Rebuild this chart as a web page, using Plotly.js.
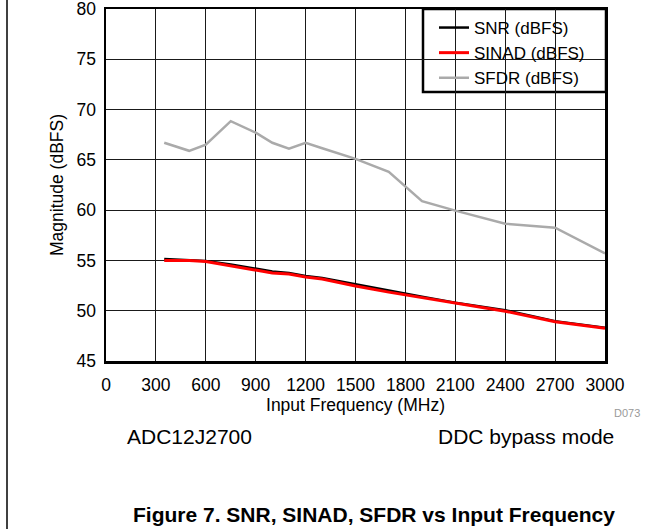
<!DOCTYPE html>
<html>
<head>
<meta charset="utf-8">
<script src="https://cdn.plot.ly/plotly-3.0.1.min.js"></script>
<style>html,body{margin:0;padding:0;background:#fff;}#chart{width:669px;height:529px;}</style>
</head>
<body>
<div id="chart"></div>
<script>
// Data
var freqMHz = [350, 500, 600, 750, 900, 1000, 1100, 1200, 1300, 1500, 1700, 1900, 2100, 2400, 2700, 3000];
var snr   = [55.15, 55.05, 54.95, 54.6, 54.2, 53.9, 53.75, 53.45, 53.25, 52.6, 52.0, 51.4, 50.8, 50.05, 48.95, 48.3];
var sinad = [55.0, 55.0, 54.9, 54.45, 54.0, 53.75, 53.65, 53.35, 53.15, 52.45, 51.85, 51.3, 50.7, 49.95, 48.9, 48.25];
var sfdr  = [66.7, 65.9, 66.5, 68.85, 67.7, 66.7, 66.1, 66.7, 66.15, 65.1, 63.8, 60.9, 59.95, 58.65, 58.25, 55.7];
var seriesNames = ["SNR (dBFS)", "SINAD (dBFS)", "SFDR (dBFS)"];
var xTickVals = [0, 300, 600, 900, 1200, 1500, 1800, 2100, 2400, 2700, 3000];
var yTickVals = [45, 50, 55, 60, 65, 70, 75, 80];

var FONT = "Liberation Sans, Arial, Helvetica, sans-serif";

var traces = [
  {x: freqMHz, y: snr, name: seriesNames[0], mode: "lines", line: {color: "#000000", width: 2.5}},
  {x: freqMHz, y: sinad, name: seriesNames[1], mode: "lines", line: {color: "#ff0000", width: 3}},
  {x: freqMHz, y: sfdr, name: seriesNames[2], mode: "lines", line: {color: "#aaaaaa", width: 2.5}}
];

// pixel -> paper helpers (plot area 106..605 x, 9..361 y)
var L = 106, R = 605, T = 9, B = 361;
function px(x){ return (x - L) / (R - L); }
function py(y){ return (B - y) / (B - T); }

var layout = {
  width: 669, height: 529,
  margin: {l: L, r: 669 - R, t: T, b: 529 - B, pad: 0},
  paper_bgcolor: "#ffffff", plot_bgcolor: "#ffffff",
  font: {family: FONT, color: "#000000", size: 17},
  showlegend: true,
  legend: {
    x: px(434), y: py(10), xanchor: "left", yanchor: "top",
    bgcolor: "rgba(0,0,0,0)", borderwidth: 0,
    font: {family: FONT, size: 17, color: "#000"},
    tracegroupgap: 0
  },
  xaxis: {
    range: [0, 3000], tickvals: xTickVals, ticktext: xTickVals.map(String),
    showgrid: true, gridcolor: "#1a1a1a", gridwidth: 1,
    showline: true, linecolor: "#000", linewidth: 2.5, mirror: true,
    zeroline: false, ticks: "", ticklabelstandoff: 6, ticklabeloverflow: "allow",
    tickfont: {family: FONT, size: 17.5},
    title: {text: "Input Frequency (MHz)", font: {family: FONT, size: 17.5}, standoff: 1}
  },
  yaxis: {
    range: [45, 80], tickvals: yTickVals, ticktext: yTickVals.map(String),
    showgrid: true, gridcolor: "#1a1a1a", gridwidth: 1,
    showline: true, linecolor: "#000", linewidth: 2.5, mirror: true,
    zeroline: false, ticks: "", ticklabelstandoff: 4, ticklabeloverflow: "allow",
    tickfont: {family: FONT, size: 17.5},
    title: {text: "Magnitude (dBFS)", font: {family: FONT, size: 17.5}, standoff: 9}
  },
  shapes: [
    {type: "rect", xref: "paper", yref: "paper", x0: px(423), x1: px(606), y0: py(92), y1: py(9),
     fillcolor: "#ffffff", line: {color: "#000", width: 2.5}, layer: "below"},
    {type: "line", xref: "paper", yref: "paper", x0: px(7), x1: px(7), y0: py(529), y1: py(0),
     line: {color: "#000", width: 1.5}}
  ],
  annotations: [
    {text: "ADC12J2700", xref: "paper", yref: "paper", x: px(189.5), y: py(436), xanchor: "center", yanchor: "middle",
     showarrow: false, font: {family: FONT, size: 21, color: "#000"}},
    {text: "DDC bypass mode", xref: "paper", yref: "paper", x: px(525.5), y: py(436), xanchor: "center", yanchor: "middle",
     showarrow: false, font: {family: FONT, size: 21, color: "#000"}},
    {text: "D073", xref: "paper", yref: "paper", x: px(642), y: py(413), xanchor: "right", yanchor: "middle",
     showarrow: false, font: {family: FONT, size: 11, color: "#999999"}},
    {text: "<b>Figure 7. SNR, SINAD, SFDR vs Input Frequency</b>", xref: "paper", yref: "paper", x: px(373.5), y: py(514),
     xanchor: "center", yanchor: "middle", showarrow: false, font: {family: FONT, size: 21, color: "#000"}}
  ]
};

Plotly.newPlot("chart", traces, layout, {displayModeBar: false, staticPlot: true});
</script>
</body>
</html>
